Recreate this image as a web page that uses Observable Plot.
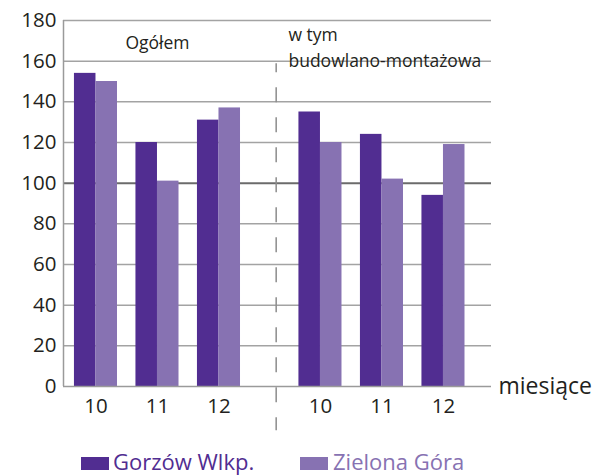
<!DOCTYPE html>
<html><head><meta charset="utf-8">
<script src="https://cdn.jsdelivr.net/npm/d3@7"></script>
<script src="https://cdn.jsdelivr.net/npm/@observablehq/plot@0.6"></script>
<style>
body{margin:0;background:#fff;font-family:"Open Sans",sans-serif;position:relative;width:595px;height:476px;overflow:hidden;}
#legend{position:absolute;top:448px;left:0;width:595px;height:27px;}
#legend .sw{position:absolute;width:28px;height:13px;top:9px;}
#legend .lb{position:absolute;top:0;line-height:27px;font-size:22px;white-space:nowrap;}
</style></head><body><div id="chart"></div><div id="legend"></div>
<script>
const months = ["10", "11", "12"];
const groupNames = ["Ogółem", "w tym\nbudowlano-montażowa"];
const series = ["Gorzów Wlkp.", "Zielona Góra"];
const gorzow = [154, 120, 131, 135, 124, 94];
const zielona = [150, 101, 137, 120, 102, 119];
const yTicks = [0, 20, 40, 60, 80, 100, 120, 140, 160, 180];
const xLabel = "miesiące";
const colors = ["#512d91", "#8772b2"];

// layout in x-units (one unit = one month slot)
const groupStart = [0, 3.65];
const half = 0.35;
const xDomain = [-0.528, 6.431];
const divider = 2.93;

const rows = [];
groupNames.forEach((g, gi) => months.forEach((m, mi) => {
  const i = gi * 3 + mi, c = groupStart[gi] + mi;
  rows.push({group: g, month: m, c, series: series[0], value: gorzow[i], x1: c - half, x2: c});
  rows.push({group: g, month: m, c, series: series[1], value: zielona[i], x1: c, x2: c + half});
}));
const centers = rows.filter(d => d.series === series[0]);
const labelAt = new Map(centers.map(d => [d.c, d.month]));

const chart = Plot.plot({
  width: 595, height: 440,
  marginLeft: 63, marginRight: 104, marginTop: 20, marginBottom: 54,
  x: {type: "linear", domain: xDomain},
  y: {domain: [0, 180]},
  color: {domain: series, range: colors},
  style: {fontFamily: "Open Sans", fontSize: "20px", color: "#231f20", background: "#fff", overflow: "visible"},
  marks: [
    Plot.ruleY(yTicks.filter(t => t > 0 && t !== 100), {stroke: "#a3a3a3", strokeWidth: 1.5}),
    Plot.ruleY([100], {stroke: "#6b6b6b", strokeWidth: 2}),
    Plot.rectY(rows, {x1: "x1", x2: "x2", y1: 0, y2: "value", fill: "series"}),
    Plot.ruleY([0], {stroke: "#9a9a9a", strokeWidth: 1.5}),
    Plot.ruleX([xDomain[0]], {y1: 0, y2: 180, stroke: "#9a9a9a", strokeWidth: 1.5}),
    Plot.ruleX([divider], {y1: 158.7, y2: -21.8, stroke: "#8c8c8c", strokeWidth: 1.5, strokeDasharray: "15,15", strokeDashoffset: 6}),
    Plot.axisY({ticks: yTicks, tickSize: 0, tickPadding: 7, fontSize: 20.5, label: null}),
    Plot.axisX({ticks: centers.map(d => d.c), tickFormat: d => labelAt.get(d), tickSize: 0, tickPadding: 12, fontSize: 20.5, label: null}),
    Plot.text([xLabel], {x: () => xDomain[1], y: () => 0, text: d => d, textAnchor: "start", dx: 7, fontSize: 23, lineAnchor: "middle"}),
    Plot.text([groupNames[0]], {x: () => groupStart[0] + 1, frameAnchor: "top", text: d => d, lineAnchor: "top", dy: 16, fontSize: 17.5}),
    Plot.text([groupNames[1]], {x: () => groupStart[1] - 0.52, frameAnchor: "top", text: d => d, textAnchor: "start", lineAnchor: "top", dy: 1, fontSize: 17.5, lineHeight: 1.53})
  ]
});
document.getElementById("chart").append(chart);

const legend = document.getElementById("legend");
const pos = [[81, 113], [300, 333]];
series.forEach((s, i) => {
  const sw = document.createElement("div");
  sw.className = "sw"; sw.style.left = pos[i][0] + "px"; sw.style.background = colors[i];
  const lb = document.createElement("div");
  lb.className = "lb"; lb.style.left = pos[i][1] + "px"; lb.style.color = colors[i];
  lb.textContent = s;
  legend.append(sw, lb);
});
</script></body></html>
